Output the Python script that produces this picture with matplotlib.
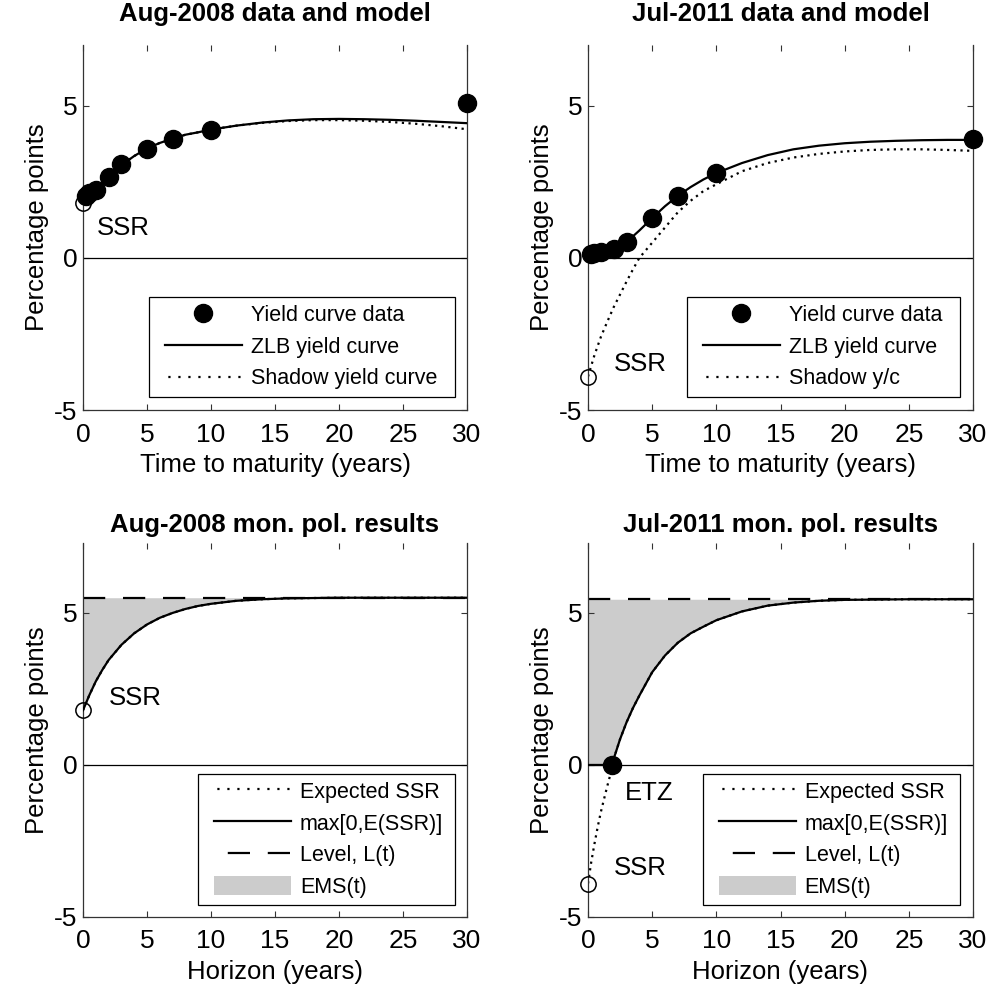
import numpy as np
import matplotlib
matplotlib.use("Agg")
import matplotlib.pyplot as plt
from matplotlib.lines import Line2D
from matplotlib.patches import Patch, Rectangle
from matplotlib.transforms import IdentityTransform

plt.rcParams['font.family'] = ['Liberation Sans', 'DejaVu Sans']
plt.rcParams['axes.unicode_minus'] = False

# ---------------- data ----------------
maturities = [0.25, 0.5, 1, 2, 3, 5, 7, 10, 30]
yields_2008 = [2.02, 2.14, 2.24, 2.67, 3.09, 3.57, 3.90, 4.19, 5.09]
yields_2011 = [0.12, 0.15, 0.20, 0.30, 0.52, 1.31, 2.04, 2.79, 3.90]

ssr_2008 = 1.8
ssr_2011 = -3.9

t_zlb_2008 = [0, 0.25, 0.5, 1, 2, 3, 4, 5, 6, 7, 8, 9, 10, 12, 14, 16, 18, 20, 22, 24, 26, 28, 30]
zlb_2008 = [1.95, 2.02, 2.10, 2.25, 2.65, 3.05, 3.35, 3.60, 3.78, 3.92, 4.05, 4.13, 4.22,
            4.35, 4.45, 4.52, 4.56, 4.57, 4.56, 4.54, 4.51, 4.47, 4.43]
shadow_2008 = [1.95, 2.02, 2.10, 2.25, 2.65, 3.05, 3.35, 3.60, 3.78, 3.92, 4.05, 4.13, 4.22,
               4.35, 4.44, 4.50, 4.53, 4.53, 4.51, 4.47, 4.41, 4.33, 4.23]

t_zlb_2011 = [0, 0.25, 0.5, 1, 1.5, 2, 2.5, 3, 4, 5, 6, 7, 8, 9, 10, 12, 14, 16, 18, 20,
              22, 24, 26, 28, 30]
zlb_2011 = [0.10, 0.12, 0.14, 0.19, 0.24, 0.31, 0.40, 0.52, 0.90, 1.31, 1.70, 2.04, 2.33,
            2.58, 2.79, 3.12, 3.38, 3.57, 3.69, 3.77, 3.82, 3.85, 3.87, 3.88, 3.88]
t_shadow_2011 = [0, 0.5, 1, 1.5, 2, 2.5, 3, 3.5, 4, 5, 6, 7, 8, 9, 10, 12, 14, 16, 18, 20,
                 22, 24, 26, 28, 30]
shadow_2011 = [-3.9, -3.2, -2.6, -2.1, -1.62, -1.2, -0.78, -0.38, 0.0, 0.5, 1.0, 1.5, 1.88,
               2.2, 2.42, 2.85, 3.12, 3.30, 3.42, 3.50, 3.55, 3.57, 3.57, 3.55, 3.52]

t_hor_2008 = [0, 0.5, 1, 1.5, 2, 3, 4, 5, 6, 7, 8, 9, 10, 12, 14, 16, 18, 20, 25, 30]
essr_2008 = [1.8, 2.3, 2.75, 3.12, 3.45, 3.95, 4.33, 4.62, 4.84, 5.0, 5.13, 5.23, 5.30,
             5.40, 5.45, 5.48, 5.49, 5.50, 5.50, 5.50]
level_2008 = 5.5

t_hor_2011 = [0, 0.25, 0.5, 0.75, 1, 1.25, 1.5, 1.75, 1.9, 2, 2.5, 3, 3.5, 4, 5, 6, 7, 8, 9,
              10, 12, 14, 16, 18, 20, 25, 30]
essr_2011 = [-3.9, -3.2, -2.6, -2.05, -1.55, -1.12, -0.7, -0.3, 0.0, 0.2, 0.85, 1.4, 1.87,
             2.28, 3.05, 3.6, 4.02, 4.33, 4.55, 4.76, 5.05, 5.24, 5.34, 5.40, 5.43, 5.45, 5.45]
level_2011 = 5.45
etz_2011 = 1.9

xticks = [0, 5, 10, 15, 20, 25, 30]
yticks = [-5, 0, 5]

# ---------------- figure ----------------
W, H = 991, 992
fig = plt.figure(figsize=(W / 100, H / 100), dpi=100)

def make_ax(x0, x1, y0, y1, ylim):
    ax = fig.add_axes([x0 / W, 1 - y1 / H, (x1 - x0) / W, (y1 - y0) / H])
    ax.set_xlim(0, 30)
    ax.set_ylim(*ylim)
    ax.set_xticks(xticks)
    ax.set_yticks(yticks)
    ax.tick_params(direction='in', length=4, width=0.8, labelsize=19, top=True, right=True,
                   color='#333333')
    ax.tick_params(axis='x', pad=9)
    ax.tick_params(axis='y', pad=4)
    for s in ['left', 'right', 'bottom']:
        ax.spines[s].set_color('#333333')
        ax.spines[s].set_linewidth(0.9)
    ax.spines['top'].set_visible(False)
    ax.axhline(0, color='black', lw=0.9, zorder=1.6)
    return ax

TITLE_FS = 18.5
LAB_FS = 18.5
LEG_FS = 15.5
TXT_FS = 18.5
DOT = (0, (1, 2))
DASH = (0, (10, 8))
LEG_DOT = (3, (1, 3.5))
LEG_DASH = (11.8, (10, 8))

ax1 = make_ax(83, 467, 45, 410, (-5, 7))
ax2 = make_ax(588, 973, 45, 410, (-5, 7))
ax3 = make_ax(83, 467, 543, 917, (-5, 7.3))
ax4 = make_ax(588, 973, 543, 917, (-5, 7.3))

def labels(ax, title, xlabel, tpad):
    ax.set_title(title, fontsize=TITLE_FS, fontweight='bold', pad=tpad)
    ax.set_xlabel(xlabel, fontsize=LAB_FS, labelpad=5)
    ax.set_ylabel('Percentage points', fontsize=LAB_FS, labelpad=4)

legends = []

def boxed_legend(ax, handles, labs, right, top, bottom, padL, padR, ls, hh):
    cy = (top + bottom) / 2
    leg = ax.legend(handles, labs, loc='center right',
                    bbox_to_anchor=(right - padR, H - cy), bbox_transform=IdentityTransform(),
                    fontsize=LEG_FS, frameon=False, borderpad=0, borderaxespad=0,
                    handlelength=3.6, handletextpad=0.4, labelspacing=ls, handleheight=hh)
    leg.set_zorder(6)
    legends.append((ax, leg, right, top, bottom, padL))

# ---- top-left ----
ax = ax1
ax.plot(t_zlb_2008, shadow_2008, color='black', lw=1.6, linestyle=DOT, zorder=2)
ax.plot(t_zlb_2008, zlb_2008, color='black', lw=1.6, zorder=3)
ax.plot([0], [ssr_2008], 'o', mfc='none', mec='black', ms=11, mew=1.1, zorder=3.5, clip_on=False)
ax.plot(maturities, yields_2008, 'o', color='black', ms=13, zorder=4, clip_on=False)
ax.text(1.1, 1.0, 'SSR', fontsize=TXT_FS, va='center', ha='left')
labels(ax, 'Aug-2008 data and model', 'Time to maturity (years)', 17)
h = [Line2D([], [], marker='o', color='black', ls='none', ms=13),
     Line2D([], [], color='black', lw=1.6),
     Line2D([], [], color='black', lw=1.6, ls=LEG_DOT)]
boxed_legend(ax, h, ['Yield curve data', 'ZLB yield curve', 'Shadow yield curve'],
             455, 297, 397, 16, 18, 0.5, 0.7)

# ---- top-right ----
ax = ax2
ax.plot(t_shadow_2011, shadow_2011, color='black', lw=1.6, linestyle=DOT, zorder=2)
ax.plot(t_zlb_2011, zlb_2011, color='black', lw=1.6, zorder=3)
ax.plot([0], [ssr_2011], 'o', mfc='none', mec='black', ms=11, mew=1.1, zorder=3.5, clip_on=False)
ax.plot(maturities, yields_2011, 'o', color='black', ms=13, zorder=4, clip_on=False)
ax.text(2.0, -3.5, 'SSR', fontsize=TXT_FS, va='center', ha='left')
labels(ax, 'Jul-2011 data and model', 'Time to maturity (years)', 17)
boxed_legend(ax, h, ['Yield curve data', 'ZLB yield curve', 'Shadow y/c'],
             960, 297, 397, 16, 18, 0.5, 0.7)

h2 = [Line2D([], [], color='black', lw=1.6, ls=LEG_DOT),
      Line2D([], [], color='black', lw=1.6),
      Line2D([], [], color='black', lw=1.6, ls=LEG_DASH),
      Patch(facecolor='#cccccc', edgecolor='none')]
lab2 = ['Expected SSR', 'max[0,E(SSR)]', 'Level, L(t)', 'EMS(t)']

# ---- bottom-left ----
ax = ax3
mx = np.maximum(0, np.array(essr_2008))
ax.fill_between(t_hor_2008, mx, level_2008, color='#cccccc', lw=0, zorder=1.5)
ax.plot(t_hor_2008, essr_2008, color='black', lw=1.6, linestyle=DOT, zorder=2)
ax.plot(t_hor_2008, mx, color='black', lw=1.6, zorder=3)
ax.plot([0, 30], [level_2008, level_2008], color='black', lw=1.6, linestyle=DASH, zorder=2.5)
ax.plot([0], [ssr_2008], 'o', mfc='none', mec='black', ms=11, mew=1.1, zorder=5, clip_on=False)
ax.text(2.0, 2.2, 'SSR', fontsize=TXT_FS, va='center', ha='left')
labels(ax, 'Aug-2008 mon. pol. results', 'Horizon (years)', 8)
boxed_legend(ax, h2, lab2, 455, 774, 905, 16, 12, 0.45, 1.0)

# ---- bottom-right ----
ax = ax4
mx = np.maximum(0, np.array(essr_2011))
ax.fill_between(t_hor_2011, mx, level_2011, color='#cccccc', lw=0, zorder=1.5)
ax.plot(t_hor_2011, essr_2011, color='black', lw=1.6, linestyle=DOT, zorder=2)
ax.plot(t_hor_2011, mx, color='black', lw=1.6, zorder=3)
ax.plot([0, 30], [level_2011, level_2011], color='black', lw=1.6, linestyle=DASH, zorder=2.5)
ax.plot([0], [ssr_2011], 'o', mfc='none', mec='black', ms=11, mew=1.1, zorder=5, clip_on=False)
ax.plot([etz_2011], [0], 'o', color='black', ms=13, zorder=5)
ax.text(2.9, -0.93, 'ETZ', fontsize=TXT_FS, va='center', ha='left')
ax.text(2.0, -3.4, 'SSR', fontsize=TXT_FS, va='center', ha='left')
labels(ax, 'Jul-2011 mon. pol. results', 'Horizon (years)', 8)
boxed_legend(ax, h2, lab2, 960, 774, 905, 16, 12, 0.45, 1.0)

# legend frames drawn to match the reference box geometry
fig.canvas.draw()
for ax, leg, right, top, bottom, padL in legends:
    bb = leg.get_window_extent()
    left = bb.x0 - padL
    rect = Rectangle((left, H - bottom), right - left, bottom - top,
                     transform=IdentityTransform(), facecolor='white', edgecolor='black',
                     lw=0.9, zorder=5.5, clip_on=False)
    ax.add_artist(rect)

fig.savefig('out.png', dpi=100, facecolor='white')
